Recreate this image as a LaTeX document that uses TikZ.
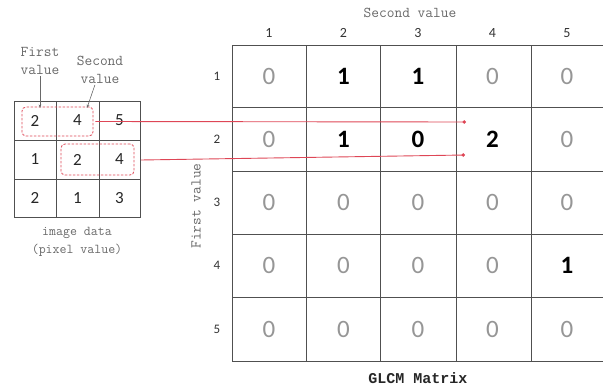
\documentclass[tikz,border=0pt]{standalone}
\usepackage{fontspec}
\setmainfont{Carlito}
\newfontfamily\capfont{Liberation Mono}
\usepackage{xcolor}
\usepackage{tikz}
\usetikzlibrary{arrows.meta, positioning}

\definecolor{linkred}{RGB}{222,70,86}
\definecolor{zerogray}{RGB}{150,150,150}
\definecolor{notegray}{RGB}{105,105,105}
\definecolor{gridgray}{RGB}{80,80,80}

\begin{document}
\begin{tikzpicture}[x=1pt, y=-1pt,
    pix/.style={font=\fontsize{17}{17}\selectfont, text=black!85},
    val0/.style={font=\fontsize{25}{25}\selectfont, text=zerogray},
    val1/.style={font=\fontsize{25}{25}\selectfont\bfseries, text=black},
    val2/.style={val1},
    valB/.style={val1},
    idx/.style={font=\fontsize{13}{13}\selectfont, text=black!80},
    note/.style={font=\ttfamily\fontsize{15}{18}\selectfont, text=notegray, align=center, inner sep=1pt},
    pairbox/.style={draw=linkred, line width=0.8pt, dash pattern=on 2.5pt off 1.5pt, rounded corners=4pt, inner sep=0pt},
    link/.style={linkred, line width=0.9pt, -{Circle[length=3.5pt]}},
    pointer/.style={notegray, line width=0.6pt, -{Stealth[length=3.5pt]}}]

    \useasboundingbox (0,0) rectangle (603,388);

    % Image data (3x3 pixels)
    \draw[gridgray, line width=0.8pt] (14,101) rectangle (140,217);
    \draw[gridgray, line width=0.8pt] (56,101) -- (56,217) (99,101) -- (99,217)
        (14,140) -- (140,140) (14,179) -- (140,179);
    \node[pix] (p11) at (35,120.5) {2};
    \node[pix] (p12) at (77.5,120.5) {4};
    \node[pix] (p13) at (119.5,120.5) {5};
    \node[pix] (p21) at (35,159.5) {1};
    \node[pix] (p22) at (77.5,159.5) {2};
    \node[pix] (p23) at (119.5,159.5) {4};
    \node[pix] (p31) at (35,198) {2};
    \node[pix] (p32) at (77.5,198) {1};
    \node[pix] (p33) at (119.5,198) {3};

    % Pairs of neighbouring pixels
    \node[pairbox, minimum width=71pt, minimum height=29pt] (pairA) at (57.5,121.5) {};
    \node[pairbox, minimum width=73pt, minimum height=31pt] (pairB) at (97.5,159.5) {};

    % Notes on the image data
    \node[note] (firstnote) at (40,61) {First\\value};
    \node[note] (secondnote) at (100,70) {Second\\value};
    \coordinate (firstpt) at (40,108);
    \coordinate (secondpt) at (87,108);
    \draw[pointer] (firstnote) -- (firstpt);
    \draw[pointer] (secondnote) -- (secondpt);
    \node[note, font=\ttfamily\fontsize{13.5}{18}\selectfont] (imgcap) at (77,242) {image data\\(pixel value)};

    % GLCM grid
    \draw[gridgray, line width=0.8pt] (232,45) -- (232,361)
        (306,45) -- (306,361) (380,45) -- (380,361)
        (456,45) -- (456,361) (531,45) -- (531,361);
    \foreach \yy in {45,107,171,234,297,361}
        \draw[gridgray, line width=0.8pt] (232,\yy) -- (603,\yy);

    % Indices
    \foreach \k in {1,...,5} {
        \node[idx, font=\fontsize{14}{14}\selectfont] (col\k) at ({269+74.5*(\k-1)},33) {\k};
        \node[idx] (row\k) at (217,{76+63.25*(\k-1)}) {\k};
    }
    \node[note] (secondaxis) at (410,13) {Second value};
    \node[note, rotate=90] (firstaxis) at (196,206) {First value};

    % GLCM values (B/0 = a counted zero, set bold)
    \foreach \vals [count=\i] in {{0,1,1,0,0},{0,1,B/0,2,0},{0,0,0,0,0},{0,0,0,0,1},{0,0,0,0,0}} {
        \foreach \s/\v [count=\j] in \vals
            \node[val\s] (m-\i-\j) at ({269+74.5*(\j-1)},{76+63.25*(\i-1)}) {\v};
    }
    \node[font=\capfont\bfseries\fontsize{15}{16}\selectfont, text=black!85] (caption) at (418,378) {GLCM Matrix};

    % Links from the pixel pairs to the cell (2,4)
    \coordinate (hitA) at (466,122);
    \coordinate (hitB) at (465,155);
    \draw[link] ([xshift=2pt]pairA.east) -- (hitA);
    \draw[link] ([xshift=6.5pt,yshift=-0.5pt]pairB.east) -- (hitB);
\end{tikzpicture}
\end{document}
